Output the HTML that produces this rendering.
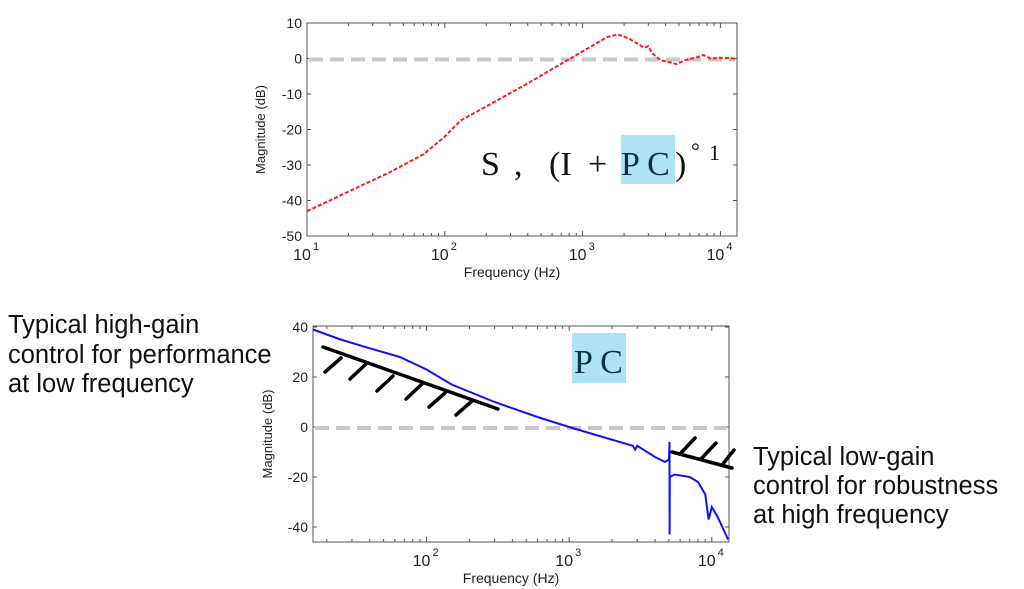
<!DOCTYPE html>
<html><head><meta charset="utf-8">
<style>
html,body{margin:0;padding:0;background:#fff;}
body{width:1024px;height:589px;overflow:hidden;position:relative;font-family:"Liberation Sans",sans-serif;}
svg{position:absolute;left:0;top:0;}
</style></head>
<body>
<svg id="chart" width="1024" height="589" viewBox="0 0 1024 589"></svg>
<script>
// Top chart: sensitivity S
const topFreq = [10,20,40,70,100,130,200,400,700,1000,1500,1800,2200,2800,3000,3200,3700,4500,4800,5500,7000,7500,8500,10000,13000];
const topMag  = [-43,-37.5,-32,-27,-22,-17.5,-13.5,-7,-1.5,2,6,6.8,5.5,3,3.5,1.5,-0.5,-1.2,-1.6,-0.5,0.5,1,0,0.2,0];
const topYTicks = [10,0,-10,-20,-30,-40,-50];
// Bottom chart: PC
const botFreq = [16,25,40,65,100,150,300,600,1000,1500,2800,2900,3000,4000,4700,5000,5050,5060,5080,5500,7000,8000,9000,9500,10000,11000,13000];
const botMag  = [39,35,31.5,28,23,17,10,4,0,-3,-7.5,-9,-7.5,-12,-14,-13,-6,-43,-20,-19,-20,-22,-27,-37,-32,-36,-45];
const botYTicks = [40,20,0,-20,-40];
const decades = [1,2,3,4];

const NS='http://www.w3.org/2000/svg';
const svg=document.getElementById('chart');
function mk(tag,attrs,parent){const e=document.createElementNS(NS,tag);for(const k in attrs)e.setAttribute(k,attrs[k]);(parent||svg).appendChild(e);return e;}

function drawChart(cfg){
  const g=mk('g',{});
  
  
  const {x0,x1,y0,y1,fMin,fMax,dMin,dMax}=cfg;
  const X=f=>x0+(Math.log10(f)-Math.log10(fMin))/(Math.log10(fMax)-Math.log10(fMin))*(x1-x0);
  const Y=d=>y1-(d-dMin)/(dMax-dMin)*(y1-y0);
  const frame=mk('rect',{x:x0,y:y0,width:x1-x0,height:y1-y0,fill:'none',stroke:'#555','stroke-width':1},g);
  
  
  for(let p=0;p<=4;p++){for(let m=1;m<10;m++){const f=m*Math.pow(10,p);if(f<fMin||f>fMax)continue;const x=X(f);const L=m===1?5:3;
    mk('line',{x1:x,y1:y1,x2:x,y2:y1-L,stroke:'#555'},g);mk('line',{x1:x,y1:y0,x2:x,y2:y0+L,stroke:'#555'},g);}}
  decades.forEach(p=>{const f=Math.pow(10,p);if(f<fMin*0.999||f>fMax)return;const x=X(f);
    const t=mk('text',{x:x-5,y:y1+24,'font-size':16,'text-anchor':'middle',fill:'#222'},g);t.textContent='10';
    
    const s=mk('text',{x:x+6,y:y1+14,'font-size':11,fill:'#222'},g);s.textContent=String(p);});
  cfg.yt.forEach(v=>{const y=Y(v);mk('line',{x1:x0,y1:y,x2:x0+4,y2:y,stroke:'#555'},g);mk('line',{x1:x1,y1:y,x2:x1-4,y2:y,stroke:'#555'},g);
    const t=mk('text',{x:x0-5,y:y+5,'font-size':14,'text-anchor':'end',fill:'#222'},g);t.textContent=String(v);
    });
  const zl=mk('line',{x1:x0+2,y1:Y(0)+1,x2:x1-2,y2:Y(0)+1,stroke:'#c8c8c8','stroke-width':4,'stroke-dasharray':'14,7'},g);
  
  const pts=cfg.fr.map((f,i)=>X(f).toFixed(1)+','+Y(cfg.mg[i]).toFixed(1)).join(' ');
  const pl=mk('polyline',{points:pts,fill:'none',stroke:cfg.color,'stroke-width':2,'stroke-dasharray':cfg.dash||'none'},g);
  
  const xt=mk('text',{x:(x0+x1)/2-10,y:y1+41,'font-size':14,'text-anchor':'middle',fill:'#222'},g);xt.textContent='Frequency (Hz)';
  
  const cy=(y0+y1)/2;
  const yt=mk('text',{x:cfg.ytx,y:cy,'font-size':13,'text-anchor':'middle',fill:'#222',transform:`rotate(-90 ${cfg.ytx} ${cy})`},g);yt.textContent='Magnitude (dB)';
  
}
drawChart({name:'sensitivity-chart',series:'sensitivity-curve',x0:307,x1:737,y0:23,y1:236,fMin:10,fMax:13200,dMin:-50,dMax:10,yt:topYTicks,fr:topFreq,mg:topMag,color:'#ff1a1a',dash:'4,2',ytx:265});
drawChart({name:'loop-gain-chart',series:'loop-gain-curve',x0:313,x1:729,y0:326,y1:542,fMin:16,fMax:13200,dMin:-46,dMax:40.4,yt:botYTicks,fr:botFreq,mg:botMag,color:'#1010ff',dash:null,ytx:272});

const h1=mk('g',{stroke:'#000','stroke-width':3.5,'stroke-linecap':'round'});

mk('line',{x1:323,y1:347,x2:498,y2:409},h1);
[[325,372,341,358],[350,379,366,364],[377,391,393,376],[406,399,422,384],[429,407,445,393],[456,415,472,401]].forEach(a=>mk('line',{x1:a[0],y1:a[1],x2:a[2],y2:a[3]},h1));
const h2=mk('g',{stroke:'#000','stroke-width':3.5,'stroke-linecap':'round'});

mk('line',{x1:672,y1:452,x2:732,y2:468},h2);
[[680,454,695,438],[701,459,716,443],[722,465,734,450]].forEach(a=>mk('line',{x1:a[0],y1:a[1],x2:a[2],y2:a[3]},h2));

mk('rect',{x:621,y:135,width:54,height:49,fill:'#aee3f7'});
mk('rect',{x:572,y:333,width:54,height:50,fill:'#aee3f7'});
function txt(x,y,s,attrs,name){const t=mk('text',Object.assign({x:x,y:y},attrs));t.textContent=s;return t;}
const serif={'font-family':'"Liberation Serif",serif','font-size':34,fill:'#111'};
txt(481,175,'S',serif,'formula-s');
txt(514,175,',',serif,'formula-comma');
txt(549,175,'(I',serif,'formula-left');
txt(588,175,'+',serif,'formula-plus');
txt(621,175,'P C',Object.assign({},serif,{fill:'#0d3040'}),'formula-pc');
txt(675,175,')',serif,'formula-right');
txt(691,158,'°',{'font-family':'"Liberation Serif",serif','font-size':22,fill:'#111'},'formula-exp-sign');
txt(709,160,'1',{'font-family':'"Liberation Serif",serif','font-size':22,fill:'#111'},'formula-exp');
txt(574,373,'P C',Object.assign({},serif,{fill:'#0d3040'}),'pc-label');

const sans={'font-family':'"Liberation Sans",sans-serif','font-size':25.5,fill:'#111'};
[['Typical high-gain',333],['control for performance',363],['at low frequency',392]].forEach((l,i)=>txt(8,l[1],l[0],sans,'high-gain-caption-'+(i+1)));
[['Typical low-gain',465],['control for robustness',494],['at high frequency',523]].forEach((l,i)=>txt(753,l[1],l[0],sans,'low-gain-caption-'+(i+1)));
</script>
</body></html>
